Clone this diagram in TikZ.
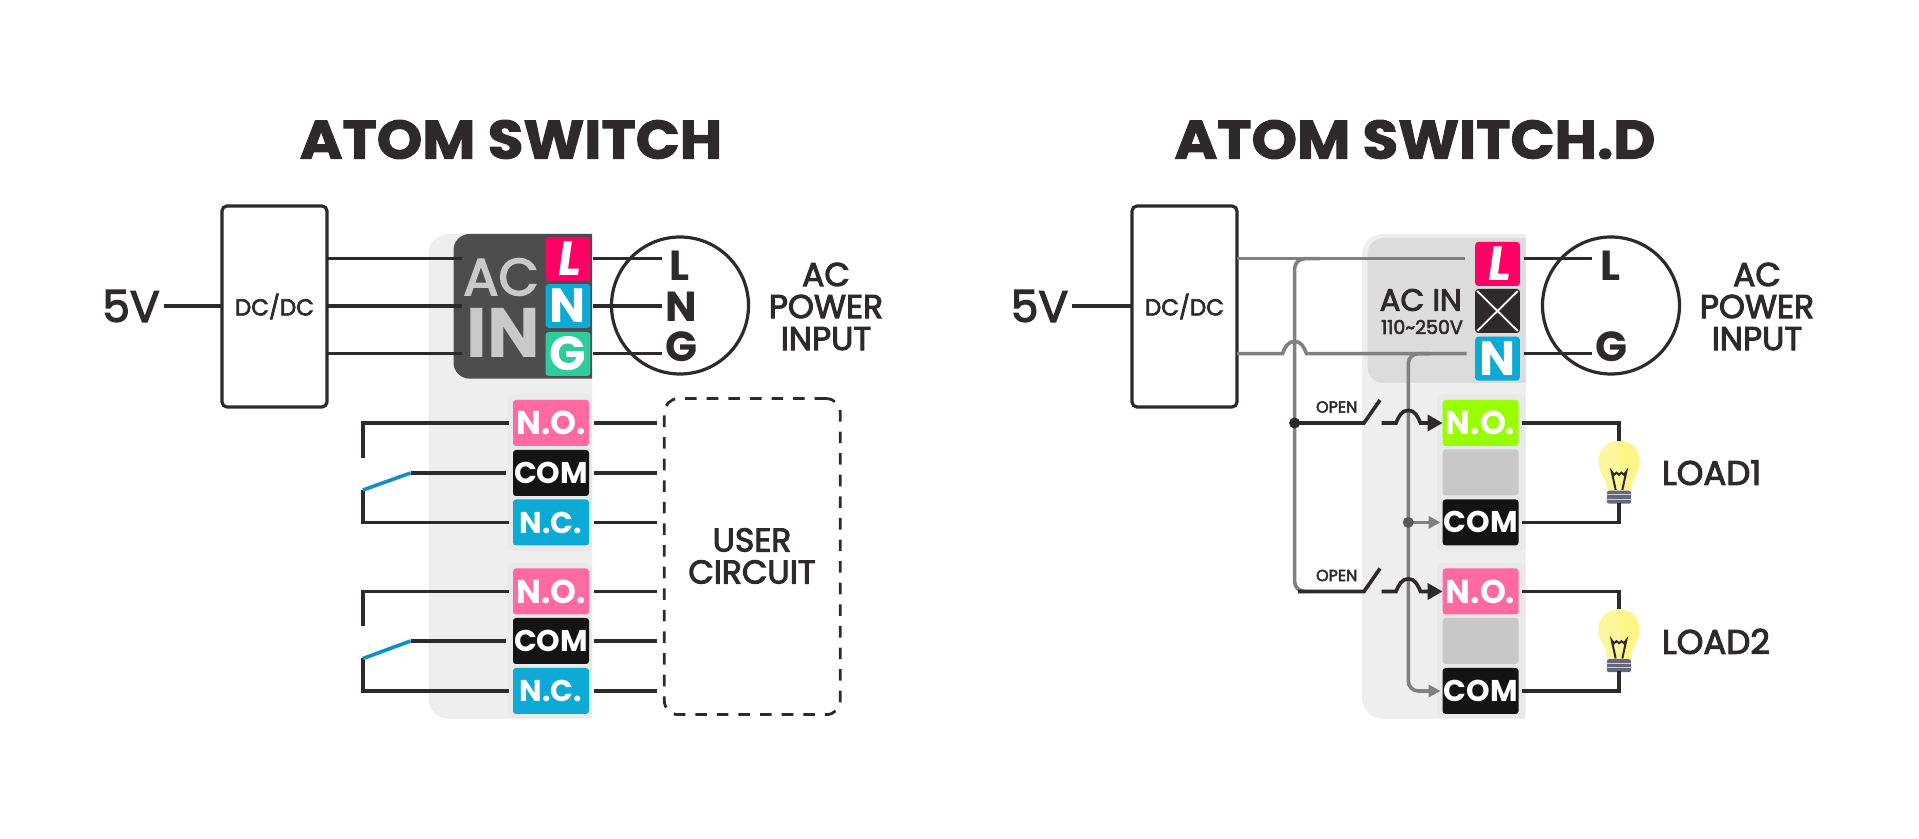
\documentclass[tikz,border=0pt]{standalone}
\usepackage{fontspec}
\usepackage{xcolor}
\usepackage{tikz}
\usetikzlibrary{calc}
\usetikzlibrary{arrows.meta}
\usetikzlibrary{positioning}
\setmainfont{Poppins}
\newfontfamily\medfont[FakeBold=3]{Poppins}
\newfontfamily\slantfont[FakeSlant=.14]{Poppins}
\newfontfamily\titlefont[FakeBold=2,FakeStretch=1.073]{Poppins}
\definecolor{ink}{HTML}{2E2A2B}
\definecolor{wiregray}{HTML}{808080}
\definecolor{panelgray}{HTML}{EEEEEE}
\definecolor{stackgray}{HTML}{E9E9E9}
\definecolor{acgray}{HTML}{DCDCDC}
\definecolor{acdark}{HTML}{4D4D4D}
\definecolor{aclight}{HTML}{C9C9C9}
\definecolor{blockgray}{HTML}{C8C8C8}
\definecolor{lred}{HTML}{FF0066}
\definecolor{ncyan}{HTML}{0EAAD6}
\definecolor{ggreen}{HTML}{2ECC9A}
\definecolor{nopink}{HTML}{FF6BA0}
\definecolor{nolime}{HTML}{99FF00}
\definecolor{comblack}{HTML}{141414}
\definecolor{bladeblue}{HTML}{0E8FC9}
\definecolor{bulbleft}{HTML}{FEF69C}
\definecolor{bulbright}{HTML}{FFF488}
\definecolor{bulbbase}{HTML}{65657E}
\tikzset{>=latex}
\tikzstyle{wire} = [-, draw=ink, line width=1.8pt]
\tikzstyle{graywire} = [-, draw=wiregray, line width=1.8pt]
\tikzstyle{thin box} = [rectangle, draw=ink, line width=1.6pt, rounded corners=2.5pt, inner sep=0pt, outer sep=0pt]
\tikzstyle{label} = [inner sep=0pt, outer sep=0pt, text=ink]
\tikzstyle{term} = [rectangle, rounded corners=1.5pt, minimum width=38pt, minimum height=23pt, inner sep=0pt, outer sep=0pt, text=white, font=\bfseries\fontsize{15}{15}\selectfont]
\tikzstyle{noterm} = [term, font=\bfseries\fontsize{16.5}{16.5}\selectfont]
\tikzstyle{acterm} = [rectangle, rounded corners=1.5pt, minimum width=22.3pt, minimum height=22pt, inner sep=0pt, outer sep=0pt, text=white, font=\bfseries\fontsize{24}{24}\selectfont]
\tikzstyle{lterm} = [acterm, font=\slantfont\bfseries\fontsize{24}{24}\selectfont]
\tikzstyle{acring} = [circle, draw=ink, line width=1.6pt, minimum size=137pt*0.5, inner sep=0pt, outer sep=0pt]
\tikzset{bulb/.pic={
  \fill [bulbleft] (0,0) .. controls (-12,0) and (-20.7,9) .. (-20.7,21) .. controls (-20.7,32) and (-12,38) .. (-12,50) -- (0,50) -- cycle;
  \fill [bulbright] (0,0) .. controls (12,0) and (20.7,9) .. (20.7,21) .. controls (20.7,32) and (12,38) .. (12,50) -- (0,50) -- cycle;
  \fill [bulbbase, rounded corners=1pt] (-12,50) rectangle (12,63);
  \draw [white!70!bulbbase, line width=.5pt] (-12,54) -- (12,54) (-12,58.5) -- (12,58.5);
  \draw [ink, line width=1pt] (-3.3,49.3) -- (-7.3,31) -- (-5,34) -- (-2.5,32) -- (0,34) -- (2.5,32) -- (5,34) -- (7.3,31) -- (3.3,49.3);
}}

\begin{document}
\begin{tikzpicture}[x=.5pt, y=-.5pt]
\useasboundingbox (0,0) rectangle (1919,839);

% left device
\node [label, font=\titlefont\bfseries\fontsize{27}{27}\selectfont] (titleA) at (511,139.5) {ATOM SWITCH};
\fill [panelgray] [rounded corners=10pt] (592,234) -- (428.5,234) -- (428.5,718.6) [sharp corners] -- (592,718.6) -- cycle;
\fill [acdark] [rounded corners=8pt] (592,234) -- (453.5,234) -- (453.5,378.6) [sharp corners] -- (592,378.6) -- cycle;
\fill [stackgray, rounded corners=2.5pt] (507.5,394) rectangle (592,551);
\fill [stackgray, rounded corners=2.5pt] (507.5,563) rectangle (592,718.6);

\node [label, font=\medfont\fontsize{22}{22}\selectfont] (fiveA) at (131,306) {5V};
\node [thin box, minimum width=52.5pt, minimum height=100.5pt, font=\medfont\fontsize{11.5}{11.5}\selectfont, text=ink] (dcA) at (274.5,306.5) {DC/DC};
\draw [wire] (164,306) to (dcA.west |- fiveA);

\node [label, text=aclight, font=\medfont\fontsize{26}{26}\selectfont] (acA) at (501,277) {AC};
\node [label, text=aclight, font=\bfseries\fontsize{35}{35}\selectfont] (inA) at (503,333) {IN};

\node [lterm, fill=lred] (lA) at (568,259) {L};
\node [acterm, fill=ncyan] (nA) at (568,306) {N};
\node [acterm, fill=ggreen] (gA) at (568,354) {G};

\node [acring] (ringA) at (680,305.5) {};
\node [label, font=\bfseries\fontsize{21}{21}\selectfont] (ringLA) at (680,266) {L};
\node [label, font=\bfseries\fontsize{21}{21}\selectfont] (ringNA) at (681,307) {N};
\node [label, font=\bfseries\fontsize{21}{21}\selectfont] (ringGA) at (681,347) {G};
\node [label, align=center, font=\medfont\fontsize{16.5}{16}\selectfont] (acpA) at (826,306.5) {AC\\POWER\\INPUT};

\coordinate (endLA) at (662,258.7);
\coordinate (endNA) at (662,306);
\coordinate (endGA) at (662,353.5);
\draw [wire] (dcA.east |- endLA) to (461.5,258.7);
\draw [wire] (dcA.east |- endNA) to (461.5,306);
\draw [wire] (dcA.east |- endGA) to (461.5,353.5);
\draw [wire, shorten <=3pt*.5] (lA.east |- endLA) to (endLA);
\draw [wire, shorten <=3pt*.5] (nA.east |- endNA) to (endNA);
\draw [wire, shorten <=3pt*.5] (gA.east |- endGA) to (endGA);

% relay terminals, left device
\node [noterm, fill=nopink] (noA) at (551,423) {N.O.};
\node [term, fill=comblack] (comA) at (551,473) {COM};
\node [term, fill=ncyan] (ncA) at (551,522.5) {N.C.};
\node [noterm, fill=nopink] (noB) at (551,591.5) {N.O.};
\node [term, fill=comblack] (comB) at (551,641) {COM};
\node [term, fill=ncyan] (ncB) at (551,691) {N.C.};

\node [thin box, dash pattern=on 5.8pt off 5pt, rounded corners=7pt, line width=1.4pt, minimum width=88pt, minimum height=158pt] (userbox) at (752.3,556.6) {};
\node [label, align=center, font=\medfont\fontsize{16.5}{16}\selectfont] (user) at (752,556) {USER\\CIRCUIT};

\coordinate (hingeX) at (410.6,0);
\coordinate (stubX) at (656.5,0);
\foreach \t/\sy/\dy/\a/\b/\c in {noA/458/490/comA/ncA/A, noB/626.5/658.5/comB/ncB/B} {
  \coordinate (open\c) at (363,\sy);
  \coordinate (shut\c) at (363,\dy);
  \coordinate (hinge\c) at (hingeX |- \a.west);
  \draw [wire, shorten >=2pt] (open\c) |- (\t.west);
  \draw [wire, shorten >=2pt] (shut\c) |- (\b.west);
  \draw [wire, shorten >=3.5pt] (hinge\c) to (\a.west);
  \draw [draw=bladeblue, line width=1.8pt] (hinge\c) to (shut\c);
  \draw [wire, shorten <=2.5pt] (\t.east) to (stubX |- \t.east);
  \draw [wire, shorten <=2.5pt] (\a.east) to (stubX |- \a.east);
  \draw [wire, shorten <=2.5pt] (\b.east) to (stubX |- \b.east);
}

% right device
\node [label, font=\titlefont\bfseries\fontsize{27}{27}\selectfont] (titleD) at (1415,139.5) {ATOM SWITCH.D};
\fill [panelgray] [rounded corners=10pt] (1525.5,234) -- (1362,234) -- (1362,718.6) [sharp corners] -- (1525.5,718.6) -- cycle;
\fill [acgray] [rounded corners=8pt] (1525.5,238) -- (1367.7,238) -- (1367.7,383) [sharp corners] -- (1525.5,383) -- cycle;
\fill [stackgray, rounded corners=2.5pt] (1437,394) rectangle (1525.5,551);
\fill [stackgray, rounded corners=2.5pt] (1437,563) rectangle (1525.5,718.6);

\node [label, font=\medfont\fontsize{22}{22}\selectfont] (fiveD) at (1039.5,306) {5V};
\node [thin box, minimum width=52.5pt, minimum height=100.5pt, font=\medfont\fontsize{11.5}{11.5}\selectfont, text=ink] (dcD) at (1184.5,306.5) {DC/DC};
\draw [wire] (1072.4,306) to (dcD.west |- fiveD);

\node [label, font=\medfont\fontsize{15.4}{15.4}\selectfont] (acD) at (1420.7,300) {AC IN};
\node [label, font=\medfont\fontsize{9.5}{9.5}\selectfont] (rangeD) at (1422,327) {110\textasciitilde 250V};

\node [lterm, fill=lred] (lD) at (1497.5,264) {L};
\node [acterm, fill=ink] (xD) at (1497.5,311) {};
\node [acterm, fill=ncyan] (nD) at (1497.5,358.7) {N};
\draw [white, line width=.9pt, shorten <=1.5pt, shorten >=1.5pt] (xD.north west) to (xD.south east);
\draw [white, line width=.9pt, shorten <=1.5pt, shorten >=1.5pt] (xD.north east) to (xD.south west);

\node [acring] (ringD) at (1611,305.5) {};
\node [label, font=\bfseries\fontsize{21}{21}\selectfont] (ringLD) at (1610.7,266) {L};
\node [label, font=\bfseries\fontsize{21}{21}\selectfont] (ringGD) at (1611,347) {G};
\node [label, align=center, font=\medfont\fontsize{16.5}{16}\selectfont] (acpD) at (1757,306.5) {AC\\POWER\\INPUT};

\coordinate (endLD) at (1591.7,258.7);
\coordinate (endND) at (1591.7,353.6);
\draw [wire, shorten <=2pt] (lD.east |- endLD) to (endLD);
\draw [wire, shorten <=2pt] (nD.east |- endND) to (endND);

% relay terminals, right device
\node [noterm, fill=nolime] (noC) at (1480.6,423) {N.O.};
\node [term, fill=blockgray] (blankC) at (1480.6,472.5) {};
\node [term, fill=comblack] (comC) at (1480.6,522.4) {COM};
\node [noterm, fill=nopink] (noD) at (1480.6,591.5) {N.O.};
\node [term, fill=blockgray] (blankD) at (1480.6,641) {};
\node [term, fill=comblack] (comD) at (1480.6,691) {COM};

% mains wiring
\coordinate (lineIn) at (1465,258.7);
\coordinate (neutralIn) at (1466.7,353.6);
\coordinate (busL) at (1294.6,423);
\coordinate (busN) at (1408.3,522.4);
\draw [graywire] (dcD.east |- lineIn) to (lineIn);
\draw [graywire] (dcD.east |- neutralIn) -- (1282.5,353.6) .. controls (1285,347) and (1288,341.4) .. (1294.6,341.4) .. controls (1301,341.4) and (1304,347) .. (1306.5,353.6) -- (neutralIn);
\draw [graywire, rounded corners=5pt] (1320,258.7) -- (1294.6,258.7) -- (1294.6,591.5) -- (1303,591.5);
\draw [graywire, rounded corners=5pt] (1430,353.6) -- (1408.3,353.6) -- (1408.3,691) -- (1425,691);
\draw [graywire, -{Triangle[length=6pt,width=6pt]}, shorten >=1pt] (1420,691) to (comD.west);
\draw [graywire, -{Triangle[length=6pt,width=6pt]}, shorten >=1pt] (busN) to (comC.west);
\node [circle, fill=black!65, minimum size=5.5pt, inner sep=0pt] (dotN) at (busN) {};
\node [circle, fill=ink, minimum size=5.5pt, inner sep=0pt] (dotL) at (busL) {};

\foreach \t/\py/\n in {noC/423/C, noD/591.5/D} {
  \coordinate (from\n) at (1298,\py);
  \coordinate (pole\n) at (1364,\py);
  \coordinate (tip\n) at (1380,\py-23);
  \coordinate (gap\n) at (1381.7,\py);
  \draw [wire] (from\n) -- (pole\n) -- (tip\n);
  \draw [wire, -{Triangle[length=7.5pt,width=8pt]}] (gap\n) -- (1396,\py) .. controls (1398.5,\py-6) and (1401.5,\py-12.7) .. (1408.3,\py-12.7) .. controls (1415,\py-12.7) and (1418,\py-6) .. (1420.5,\py) -- (\t.west);
  \node [label, font=\medfont\fontsize{8}{8}\selectfont] (open\n) at (1336.7,\py-16) {OPEN};
}

% loads
\pic at (1619,440.7) {bulb};
\pic at (1619,609.2) {bulb};
\coordinate (bulbTopC) at (1619,441);
\coordinate (bulbEndC) at (1619,503);
\coordinate (bulbTopD) at (1619,609.5);
\coordinate (bulbEndD) at (1619,671.5);
\draw [wire, shorten <=1.5pt] (noC.east) -| (bulbTopC);
\draw [wire, shorten <=1.5pt] (comC.east) -| (bulbEndC);
\draw [wire, shorten <=1.5pt] (noD.east) -| (bulbTopD);
\draw [wire, shorten <=1.5pt] (comD.east) -| (bulbEndD);
\node [label, anchor=west, font=\medfont\fontsize{17}{17}\selectfont] (loadC) at (1662,472.7) {LOAD1};
\node [label, anchor=west, font=\medfont\fontsize{17}{17}\selectfont] (loadD) at (1662,641.4) {LOAD2};
\end{tikzpicture}
\end{document}
